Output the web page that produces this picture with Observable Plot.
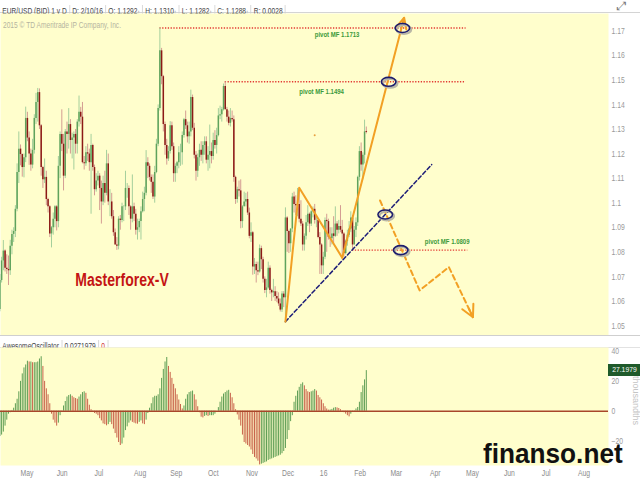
<!DOCTYPE html>
<html><head><meta charset="utf-8">
<script src="https://cdn.jsdelivr.net/npm/d3@7"></script>
<script src="https://cdn.jsdelivr.net/npm/@observablehq/plot@0.6"></script>
<style>
html,body{margin:0;padding:0;background:#fff;}
#wrap{position:relative;width:640px;height:480px;overflow:hidden;font-family:"Liberation Sans",Arial,sans-serif;}
.row{position:absolute;left:0;height:12px;white-space:nowrap;transform-origin:0 0;}
.row span{display:inline-block;padding:0 3px;border-right:1px solid #cfcfcf;font-size:8.5px;line-height:12px;color:#444;}
.row span i{font-style:normal;font-size:6px;color:#888;}
#mainSvg,#aoSvg{position:absolute;left:0;}
#mainSvg{top:13px;} #aoSvg{top:347px;}
</style></head>
<body><div id="wrap">
<div style="position:absolute;left:0;top:0;width:640px;height:12px;border-bottom:1px solid #d4d4d4;background:#fff"></div>
<div class="row" id="hdr" style="top:0;transform:scaleX(0.78)"><span>EUR/USD (BID) 1 y D</span><span>D: 2/10/16</span><span>O: 1.1292<i>↑</i></span><span>H: 1.1310<i>↑</i></span><span>L: 1.1282<i>↑</i></span><span>C: 1.1288<i>↑</i></span><span>R: 0.0028</span></div>
<div style="position:absolute;left:617px;top:-1px;font-size:12px;color:#777">⤢</div>
<div id="mainSvg"></div>
<div style="position:absolute;left:0;top:335px;width:640px;height:11px;border-top:1px solid #cfcfcf;border-bottom:1px solid #e2e2e2;background:#fff"></div>
<div class="row" id="aohdr" style="top:335px;transform:scaleX(0.78)"><span>AwesomeOscillator</span><span>0.0271979</span><span style="color:#d03030">0</span></div>
<div id="aoSvg"></div>
<div id="copy" style="position:absolute;left:3px;top:20px;font-size:8.5px;color:#b5b4a0;transform:scaleX(0.78);transform-origin:0 0;white-space:nowrap">2015 © TD Ameritrade IP Company, Inc.</div>
<div id="aoLabel" style="position:absolute;left:608px;width:32px;height:12px;background:#1f5a2b;color:#fff;font-size:8px;line-height:12px;text-align:center"><span style="display:inline-block;transform:scaleX(0.85)">27.1979</span></div>
<div style="position:absolute;left:631px;top:376px;writing-mode:vertical-rl;font-size:9px;line-height:9px;color:#c4c4c4">thousandths</div>
<div style="position:absolute;left:483px;top:447px;font-size:27px;line-height:14px;font-weight:bold;color:#111;font-family:'Liberation Sans',Arial,sans-serif;transform:scaleX(0.97);transform-origin:0 0">finanso.net</div>
</div>
<script>
// ---------- data ----------
const holidays = ["2015-12-25", "2016-01-01"];
const open = [
1.0567,1.0685,1.0765,1.0805,1.0735,1.0730,1.0725,1.0825,1.0873,1.0885,1.0975,1.1125,
1.1220,1.1198,1.1145,1.1185,1.1345,1.1265,1.1200,1.1155,1.1215,1.1345,1.1410,1.1450,1.1315,1.1145,1.1095,1.1105,1.1015,1.0985,1.0875,1.0900,1.0935,
1.0985,1.0925,1.1150,1.1280,1.1240,1.1110,1.1290,1.1280,1.1320,1.1255,1.1265,1.1280,1.1240,1.1330,1.1370,1.1350,1.1165,1.1160,1.1205,1.1200,1.1165,1.1235,
1.1145,1.1055,1.1090,1.1110,1.1060,1.1005,1.1080,1.1040,1.1160,1.1005,1.1005,1.0945,1.0880,1.0830,1.0825,1.0935,1.0930,1.0985,1.0985,1.1060,1.1060,1.0985,1.0935,
1.0985,1.0955,1.0890,1.0900,1.0925,1.0965,1.1015,1.1040,1.1165,1.1150,1.1105,1.1085,1.1025,1.1125,1.1240,1.1385,1.1620,1.1515,1.1320,1.1235,1.1180,
1.1210,1.1315,1.1230,1.1120,1.1150,1.1165,1.1205,1.1205,1.1275,1.1340,1.1315,1.1270,1.1290,1.1430,1.1305,1.1195,1.1130,1.1185,1.1215,1.1195,1.1235,1.1250,
1.1175,1.1195,1.1210,1.1190,1.1255,1.1235,1.1275,1.1355,1.1360,1.1380,1.1475,1.1380,1.1350,1.1325,1.1345,1.1340,1.1105,1.1015,1.1055,1.1050,1.0925,1.0985,
1.1005,1.1015,1.0960,1.0865,1.0880,1.0740,1.0750,1.0725,1.0720,1.0815,1.0770,1.0690,1.0645,1.0655,1.0735,1.0645,1.0635,1.0640,1.0620,1.0610,1.0590,
1.0565,1.0630,1.0615,1.0940,1.0885,1.0835,1.0895,1.1025,1.0995,1.0990,1.0995,1.0935,1.0915,1.0830,1.0865,1.0920,1.0955,1.0915,1.0965,1.0975,1.0930,1.0930,
1.0860,1.0830,1.0745,1.0780,1.0930,1.0925,1.0860,1.0855,1.0875,1.0865,1.0915,1.0890,1.0905,1.0890,1.0875,1.0795,1.0845,1.0870,1.0895,1.0940,
1.0830,1.0890,1.0920,1.1105,1.1210,1.1155,1.1195,1.1292];
const high = [
1.0710,1.0780,1.0848,1.0810,1.0790,1.0785,1.0849,1.0890,1.0900,1.0990,1.1160,1.1290,
1.1237,1.1200,1.1200,1.1391,1.1370,1.1290,1.1220,1.1260,1.1360,1.1447,1.1467,1.1465,1.1320,1.1150,1.1180,1.1130,1.1020,1.0990,1.0905,1.0960,1.0990,
1.0990,1.1190,1.1290,1.1380,1.1280,1.1300,1.1330,1.1385,1.1340,1.1285,1.1290,1.1300,1.1340,1.1436,1.1390,1.1410,1.1190,1.1230,1.1240,1.1220,1.1280,1.1240,
1.1155,1.1120,1.1130,1.1120,1.1090,1.1110,1.1130,1.1215,1.1200,1.1055,1.1040,1.0970,1.0895,1.0860,1.0945,1.0950,1.1000,1.0990,1.1130,1.1080,1.1070,1.0990,1.1115,
1.1000,1.0975,1.0935,1.0935,1.0985,1.1045,1.1065,1.1214,1.1185,1.1160,1.1115,1.1115,1.1150,1.1260,1.1400,1.1713,1.1630,1.1520,1.1330,1.1260,1.1230,
1.1332,1.1330,1.1245,1.1160,1.1170,1.1230,1.1240,1.1290,1.1345,1.1375,1.1330,1.1330,1.1460,1.1440,1.1325,1.1210,1.1200,1.1240,1.1250,1.1250,1.1270,1.1270,
1.1230,1.1318,1.1245,1.1285,1.1295,1.1305,1.1385,1.1395,1.1390,1.1485,1.1494,1.1390,1.1375,1.1385,1.1375,1.1355,1.1110,1.1065,1.1090,1.1095,1.0990,1.1045,
1.1040,1.1045,1.0980,1.0920,1.0885,1.0775,1.0760,1.0760,1.0830,1.0825,1.0780,1.0700,1.0690,1.0760,1.0745,1.0650,1.0690,1.0660,1.0640,1.0635,1.0610,
1.0640,1.0640,1.0981,1.0945,1.0890,1.0895,1.1040,1.1045,1.1030,1.1060,1.1060,1.1010,1.0925,1.0875,1.0950,1.0990,1.0960,1.0970,1.0985,1.0995,1.0950,1.0935,
1.0880,1.0835,1.0800,1.0940,1.0955,1.0935,1.0900,1.0900,1.0945,1.0985,1.0925,1.0930,1.0990,1.0930,1.0880,1.0850,1.0890,1.0925,1.0965,1.0950,
1.0905,1.0940,1.1110,1.1230,1.1245,1.1205,1.1338,1.1310];
const low = [
1.0558,1.0675,1.0725,1.0720,1.0710,1.0665,1.0706,1.0790,1.0840,1.0860,1.0965,1.1080,
1.1152,1.1106,1.1103,1.1165,1.1250,1.1154,1.1130,1.1140,1.1200,1.1320,1.1330,1.1300,1.1110,1.1060,1.1080,1.0990,1.0960,1.0860,1.0818,1.0870,1.0900,
1.0887,1.0900,1.1100,1.1210,1.1050,1.1100,1.1200,1.1220,1.1200,1.1180,1.1135,1.1200,1.1200,1.1310,1.1320,1.1160,1.1135,1.1150,1.1170,1.1130,1.0955,1.1130,
1.1030,1.1045,1.1070,1.0970,1.0915,1.0990,1.1000,1.1030,1.0990,1.0945,1.0935,1.0865,1.0830,1.0808,1.0810,1.0890,1.0920,1.0925,1.0970,1.1020,1.0950,1.0890,1.0920,
1.0925,1.0870,1.0850,1.0880,1.0850,1.0960,1.0965,1.1030,1.1100,1.1090,1.1040,1.1015,1.1000,1.1120,1.1230,1.1375,1.1482,1.1290,1.1195,1.1155,1.1170,
1.1200,1.1215,1.1085,1.1085,1.1120,1.1140,1.1150,1.1155,1.1265,1.1300,1.1245,1.1240,1.1270,1.1295,1.1180,1.1090,1.1105,1.1150,1.1170,1.1160,1.1195,1.1160,
1.1130,1.1140,1.1160,1.1175,1.1220,1.1200,1.1270,1.1340,1.1330,1.1375,1.1380,1.1330,1.1315,1.1310,1.1330,1.1085,1.0995,1.1000,1.1025,1.0896,1.0898,1.0985,
1.0985,1.0950,1.0855,1.0840,1.0707,1.0710,1.0675,1.0705,1.0715,1.0730,1.0675,1.0632,1.0615,1.0650,1.0630,1.0600,1.0615,1.0600,1.0595,1.0580,1.0557,
1.0555,1.0575,1.0524,1.0800,1.0795,1.0800,1.0880,1.0960,1.0950,1.0945,1.0920,1.0905,1.0805,1.0805,1.0850,1.0905,1.0880,1.0905,1.0940,1.0915,1.0900,1.0855,
1.0710,1.0710,1.0710,1.0770,1.0800,1.0850,1.0820,1.0830,1.0835,1.0860,1.0865,1.0875,1.0880,1.0778,1.0780,1.0790,1.0825,1.0860,1.0880,1.0810,
1.0830,1.0860,1.0905,1.1090,1.1130,1.1095,1.1160,1.1282];
const close = [
1.0685,1.0765,1.0805,1.0735,1.0730,1.0725,1.0825,1.0873,1.0885,1.0975,1.1125,1.1220,
1.1198,1.1145,1.1185,1.1345,1.1265,1.1200,1.1155,1.1215,1.1345,1.1410,1.1450,1.1315,1.1145,1.1095,1.1105,1.1015,1.0985,1.0875,1.0900,1.0935,1.0985,
1.0925,1.1150,1.1280,1.1240,1.1110,1.1290,1.1280,1.1320,1.1255,1.1265,1.1280,1.1240,1.1330,1.1370,1.1350,1.1165,1.1160,1.1205,1.1200,1.1165,1.1235,1.1145,
1.1055,1.1090,1.1110,1.1060,1.1005,1.1080,1.1040,1.1160,1.1005,1.1005,1.0945,1.0880,1.0830,1.0825,1.0935,1.0930,1.0985,1.0985,1.1060,1.1060,1.0985,1.0935,1.0985,
1.0955,1.0890,1.0900,1.0925,1.0965,1.1015,1.1040,1.1165,1.1150,1.1105,1.1085,1.1025,1.1125,1.1240,1.1385,1.1620,1.1515,1.1320,1.1235,1.1180,1.1210,
1.1315,1.1230,1.1120,1.1150,1.1165,1.1205,1.1205,1.1275,1.1340,1.1315,1.1270,1.1290,1.1430,1.1305,1.1195,1.1130,1.1185,1.1215,1.1195,1.1235,1.1250,1.1175,
1.1195,1.1210,1.1190,1.1255,1.1235,1.1275,1.1355,1.1360,1.1380,1.1475,1.1380,1.1350,1.1325,1.1345,1.1340,1.1105,1.1015,1.1055,1.1050,1.0925,1.0985,1.1005,
1.1015,1.0960,1.0865,1.0880,1.0740,1.0750,1.0725,1.0720,1.0815,1.0770,1.0690,1.0645,1.0655,1.0735,1.0645,1.0635,1.0640,1.0620,1.0610,1.0590,1.0565,
1.0630,1.0615,1.0940,1.0885,1.0835,1.0895,1.1025,1.0995,1.0990,1.0995,1.0935,1.0915,1.0830,1.0865,1.0920,1.0955,1.0915,1.0965,1.0975,1.0930,1.0930,1.0860,
1.0830,1.0745,1.0780,1.0930,1.0925,1.0860,1.0855,1.0875,1.0865,1.0915,1.0890,1.0905,1.0890,1.0875,1.0795,1.0845,1.0870,1.0895,1.0940,1.0830,
1.0890,1.0920,1.1105,1.1210,1.1155,1.1195,1.1290,1.1288];
// Awesome Oscillator (thousandths), one per bar
const aoValues = [
-17,-16,-14,-10,-6,-2,-1,0.5,2,5,
8,13,20,25,29,31,33.5,33,33,32.5,
32.5,32.5,33,35,36.5,30,20,15,11,5,
-2,-6,-8,-10,-8,-3,-0.5,3.5,6.5,9.5,
10.5,11,10,9,8.5,8,9.5,11,12.5,13,
12,8,4,1,-0.5,-1.5,-2,-3,-5,-6.5,
-8.5,-9,-9.8,-9,-7.5,-9,-12,-15,-18,-21,
-23,-22,-18,-13,-10.5,-8,-6.5,-7.5,-8,-8.5,
-8.7,-7.5,-6.5,-8.5,-9,-6,-1.5,2,5,9,
10,10,11,15,22,28,33,36,30,26,
22,18,15,11,7.5,4.5,1.5,3.5,8,11,
12.5,13,13.5,11,7.5,3,-1,-4,-4.5,-3.5,
-3,-3.5,-3,-3,-3,-2,0,2.4,6,9.5,
11.5,12.5,13.5,14,12,9,5,1,-2.5,-6,
-10,-16,-21,-22,-23,-24,-26,-29,-31,-32,
-33.5,-36,-35.5,-35,-34.5,-34,-33,-32.5,-32,-31.5,
-31,-30.5,-30,-29.5,-28.5,-27,-25,-19,-13,-7,
-3,6,10,13.5,16,18,19,17,14.5,13,
12.5,13,13.5,14.5,13.5,10.5,9,7.5,5,3,
1.5,0.7,0.8,1.2,2,2.4,2.2,1.8,1,0.2,
-1,-2,-3,-3.8,-2,-0.8,0.3,1.5,2.5,6,
12.5,17,21,27.2];
const aoLast = 27.1979;
const priceTicks = [1.05,1.06,1.07,1.08,1.09,1.1,1.11,1.12,1.13,1.14,1.15,1.16,1.17];
const aoTicks = [-20,0,20,40];
const monthStarts = ["2015-05","2015-06","2015-07","2015-08","2015-09","2015-10","2015-11","2015-12","2016-01","2016-02","2016-03","2016-04","2016-05","2016-06","2016-07","2016-08"];
const monthLabels = ["May","Jun","Jul","Aug","Sep","Oct","Nov","Dec","16","Feb","Mar","Apr","May","Jun","Jul","Aug"];
// annotations
const pivotPrices = [1.1713, 1.1494, 1.0809];
const pivotStart = ["2015-08-24","2015-10-15","2016-01-29"];
const pivotEnd = ["2016-05-02","2016-05-02","2016-05-03"];
const pivotLabelDates = ["2016-01-18","2016-01-05","2016-04-15"];
const pivotLabelPrices = [1.1685, 1.1455, 1.0845];
const pivotLabels = ["pivot MF 1.1713","pivot MF 1.1494","pivot MF 1.0809"];
const zigDates = ["2015-12-03","2015-12-15","2016-01-21","2016-03-11"];
const zigPrices = [1.0518, 1.1063, 1.0778, 1.1755];
const trendDates = ["2015-12-03","2016-04-04"];
const trendPrices = [1.0518, 1.1157];
const fcDates = ["2016-02-22","2016-03-24","2016-04-18","2016-05-06"];
const fcPrices = [1.1011, 1.0645, 1.0740, 1.0536];
const ringDates = ["2016-03-10","2016-02-29","2016-02-25","2016-03-09"];
const ringPrices = [1.1713, 1.1494, 1.0954, 1.0809];
const brandDate = "2015-07-23", brandPrice = 1.0685, brandText = "Masterforex-V";
const speckDate = "2015-12-29", speckPrice = 1.1276;

// ---------- trading calendar ----------
const tradingDays = [];
for (let t = Date.UTC(2015,3,15); t <= Date.UTC(2016,8,30); t += 86400000) {
  const d = new Date(t), wd = d.getUTCDay(), s = d.toISOString().slice(0,10);
  if (wd === 0 || wd === 6 || holidays.includes(s)) continue;
  tradingDays.push(s);
}
const idxOf = new Map(tradingDays.map((s,i)=>[s,i]));
const bar = s => idxOf.get(s);

const candles = close.map((c,i)=>({i, o: open[i], h: high[i], l: low[i], c}));
const upC = candles.filter(d=>d.c>=d.o), dnC = candles.filter(d=>d.c<d.o);
const ao = aoValues.map((v,i)=>({i, v, up: i===0 ? true : v >= aoValues[i-1]}));
const months = monthStarts.map((m,k)=>({i: tradingDays.findIndex(s=>s.startsWith(m)), label: monthLabels[k]}));
const pivots = pivotPrices.map((p,k)=>({p, s: bar(pivotStart[k]), e: bar(pivotEnd[k])}));
const pivotLab = pivotLabels.map((t,k)=>({t, i: bar(pivotLabelDates[k]), p: pivotLabelPrices[k]}));
const pts = (dates, prices) => dates.map((d,k)=>({i: bar(d), p: prices[k]}));
const zig = pts(zigDates, zigPrices), trend = pts(trendDates, trendPrices), fc = pts(fcDates, fcPrices), rings = pts(ringDates, ringPrices);
const fcLastLeg = [{a: fc[fc.length-2], b: fc[fc.length-1]}];

const XD = [0.35, 353.8];
const FONT = '"Liberation Sans", Arial, sans-serif';
const UPB="#5fa35c", UPW="#a4cf9c", DNB="#8c1a16", DNW="#d49c92";
const YEL = "#fffecc";
const ORANGE = "#f2a024";

const ellipse = {draw(ctx, size){ const r=Math.sqrt(size/Math.PI), rx=r*1.55, ry=r*0.95, k=0.5523;
  ctx.moveTo(rx,0); ctx.bezierCurveTo(rx,k*ry,k*rx,ry,0,ry); ctx.bezierCurveTo(-k*rx,ry,-rx,k*ry,-rx,0);
  ctx.bezierCurveTo(-rx,-k*ry,-k*rx,-ry,0,-ry); ctx.bezierCurveTo(k*rx,-ry,rx,-k*ry,rx,0); ctx.closePath(); }};

const mainChart = Plot.plot({
  width: 640, height: 322, marginLeft: 0, marginRight: 32, marginTop: 0, marginBottom: 0,
  style: {background: "transparent", fontFamily: FONT, fontSize: "8.5px", color: "#9a9a9a", overflow: "visible"},
  x: {domain: XD, axis: null},
  y: {domain: [1.04615, 1.1772]},
  marks: [
    Plot.frame({fill: YEL, stroke: "none"}),
    Plot.axisY({anchor: "right", ticks: priceTicks, tickSize: 0, tickPadding: 3, label: null, tickFormat: d => String(+d.toFixed(2)), fill: "#9a9a9a"}),
    Plot.ruleY(pivots, {y: "p", x1: "s", x2: "e", stroke: "#e23a33", strokeWidth: 1.4, strokeDasharray: "1.3,1.5"}),
    Plot.ruleX(upC, {x: "i", y1: "l", y2: "h", stroke: UPW, strokeWidth: 1}),
    Plot.ruleX(dnC, {x: "i", y1: "l", y2: "h", stroke: DNW, strokeWidth: 1}),
    Plot.ruleX(upC, {x: "i", y1: "o", y2: "c", stroke: UPB, strokeWidth: 1.5}),
    Plot.ruleX(dnC, {x: "i", y1: "o", y2: "c", stroke: DNB, strokeWidth: 1.5}),
    Plot.line(trend, {x: "i", y: "p", stroke: "#1d1d78", strokeWidth: 1.5, strokeDasharray: "4,2.5"}),
    Plot.line(zig.slice(0,3), {x: "i", y: "p", stroke: ORANGE, strokeWidth: 2}),
    Plot.arrow([{a: zig[2], b: zig[3]}], {x1: d=>d.a.i, y1: d=>d.a.p, x2: d=>d.b.i, y2: d=>d.b.p, stroke: ORANGE, strokeWidth: 2, headLength: 9, headAngle: 50}),
    Plot.line(fc, {x: "i", y: "p", stroke: ORANGE, strokeWidth: 2, strokeDasharray: "5,3.5"}),
    // arrowhead of the dashed forecast: the last leg, its shaft trimmed away by insetStart
    Plot.arrow(fcLastLeg, {x1: d=>d.a.i, y1: d=>d.a.p, x2: d=>d.b.i, y2: d=>d.b.p, stroke: ORANGE, strokeWidth: 2, headLength: 10, headAngle: 55, insetStart: 46}),
    Plot.dot(rings, {x: "i", y: "p", symbol: ellipse, r: 4.7, stroke: "#b9b7a6", strokeWidth: 2.2, dx: 1.5, dy: 1.5, fill: "none"}),
    Plot.dot(rings, {x: "i", y: "p", symbol: ellipse, r: 4.7, stroke: "#1c1c6e", strokeWidth: 1.6, fill: "none"}),
    Plot.dot([{i: bar(speckDate), p: speckPrice}], {x: "i", y: "p", r: 1, fill: "#e8a040", stroke: "none"}),
    Plot.text(pivotLab, {x: "i", y: "p", text: "t", fill: "#3c9a3a", fontWeight: "bold", fontSize: 7.5, ariaLabel: "pivot-label"}),
    Plot.text([{i: bar(brandDate), p: brandPrice, t: brandText}], {x: "i", y: "p", text: "t", fill: "#c41414", fontWeight: "bold", fontSize: 17.5, ariaLabel: "brand"})
  ]
});
document.getElementById("mainSvg").appendChild(mainChart);

const aoChart = Plot.plot({
  width: 640, height: 133, marginLeft: 0, marginRight: 32, marginTop: 0, marginBottom: 15,
  style: {background: "transparent", fontFamily: FONT, fontSize: "8.5px", color: "#9a9a9a", overflow: "visible"},
  x: {domain: XD, axis: null},
  y: {domain: [-36.4, 42.7]},
  marks: [
    Plot.frame({fill: YEL, stroke: "none"}),
    Plot.ruleX(ao.filter(d=>d.up), {x: "i", y1: 0, y2: "v", stroke: "#5f9e55", strokeWidth: 1}),
    Plot.ruleX(ao.filter(d=>!d.up), {x: "i", y1: 0, y2: "v", stroke: "#c8634b", strokeWidth: 1}),
    Plot.ruleY([0], {stroke: "#a8462a", strokeWidth: 1.4}),
    Plot.axisY({anchor: "right", ticks: aoTicks, tickSize: 0, tickPadding: 3, label: null, fill: "#9a9a9a"}),
    Plot.text(months, {x: "i", y: -36.4, text: "label", textAnchor: "start", dy: 8, fill: "#8c8c8c"})
  ]
});
document.getElementById("aoSvg").appendChild(aoChart);

// label box on AO axis
document.getElementById("aoLabel").style.top = (347 + aoChart.scale("y").apply(aoLast) - 6) + "px";

// horizontal condensing of the narrow chart lettering
function fit(svg) {
  svg.querySelectorAll('g[aria-label="pivot-label"] text').forEach(t=>{t.setAttribute("textLength", 46); t.setAttribute("lengthAdjust","spacingAndGlyphs");});
  svg.querySelectorAll('g[aria-label="brand"] text').forEach(t=>{t.setAttribute("textLength", 85); t.setAttribute("lengthAdjust","spacingAndGlyphs");});
  svg.querySelectorAll("text").forEach(t=>{
    if (t.hasAttribute("textLength")) return;
    const L = t.getComputedTextLength();
    if (L > 0) { t.setAttribute("textLength", (L*0.8).toFixed(1)); t.setAttribute("lengthAdjust","spacingAndGlyphs"); }
  });
}
fit(mainChart); fit(aoChart);
</script>
</body></html>
